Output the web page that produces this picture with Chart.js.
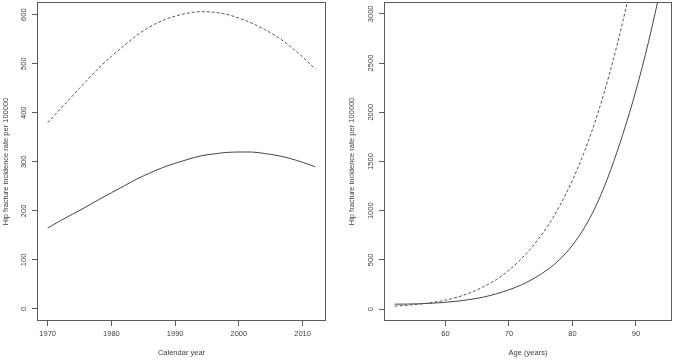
<!DOCTYPE html>
<html>
<head>
<meta charset="utf-8">
<script src="https://cdn.jsdelivr.net/npm/chart.js@4/dist/chart.umd.min.js"></script>
<style>
  html, body { margin: 0; padding: 0; background: #fff; }
  #wrap { position: relative; width: 675px; height: 360px; }
  .panel { position: absolute; top: 0; height: 360px; }
</style>
</head>
<body>
<div id="wrap">
  <div class="panel" style="left:0;width:337px"><canvas id="year-chart"></canvas></div>
  <div class="panel" style="left:337px;width:338px"><canvas id="age-chart"></canvas></div>
</div>
<script>
// left panel: rate by calendar year
const years = [1970, 1972, 1974, 1976, 1978, 1980, 1982, 1984, 1986, 1988, 1990,
               1992, 1994, 1996, 1998, 2000, 2002, 2004, 2006, 2008, 2010, 2012];
const yearRateDashed = [380, 408, 436, 464, 491, 515, 537, 558, 575, 588, 597,
                        603, 606, 605, 601, 593, 583, 570, 555, 536, 514, 489];
const yearRateSolid = [165, 180, 194, 208, 223, 237, 251, 265, 277, 288, 297,
                       305, 312, 316, 319, 320, 320, 317, 313, 307, 299, 290];
const yearTicks = [1970, 1980, 1990, 2000, 2010];
const yearRateTicks = [0, 100, 200, 300, 400, 500, 600];

// right panel: rate by age
const ages = [52, 54, 56, 58, 60, 62, 64, 66, 68, 70, 72,
              74, 76, 78, 80, 82, 84, 86, 88, 90, 92, 94];
const ageRateDashed = [31, 40, 52, 70, 92, 125, 170, 228, 300, 395, 515,
                       660, 835, 1050, 1310, 1620, 1990, 2430, 2940, 3530];
const ageRateSolid = [51, 52, 55, 61, 70, 82, 100, 123, 156, 197, 248,
                      315, 398, 505, 650, 840, 1090, 1410, 1790, 2220, 2720, 3290];
const ageTicks = [60, 70, 80, 90];
const ageRateTicks = [0, 500, 1000, 1500, 2000, 2500, 3000];

const yTitle = 'Hip fracture incidence rate per 100000';
const fontSpec = { family: '"Liberation Sans", Arial, sans-serif', size: 7.5 };
const textColor = '#3c3c3c';
const axisColor = '#5a5a5a';

const boxPlugin = {
  id: 'box',
  afterDraw(chart) {
    const { ctx, chartArea: a } = chart;
    const l = Math.round(a.left) + 0.5, t = Math.round(a.top) + 0.5;
    const r = Math.round(a.right) - 0.5, b = Math.round(a.bottom) - 0.5;
    ctx.save();
    ctx.strokeStyle = axisColor;
    ctx.lineWidth = 1;
    ctx.strokeRect(l, t, r - l, b - t);
    ctx.restore();
  }
};

function toPoints(xs, ys) {
  return ys.map((v, i) => ({ x: xs[i], y: v }));
}

function makePanel(canvas, p) {
  return new Chart(canvas.getContext('2d'), {
    type: 'line',
    data: {
      datasets: [
        {
          data: toPoints(p.xs, p.dashed),
          borderColor: '#555',
          borderWidth: 1,
          borderDash: [3, 2],
          pointRadius: 0,
          cubicInterpolationMode: 'monotone'
        },
        {
          data: toPoints(p.xs, p.solid),
          borderColor: '#444',
          borderWidth: 1,
          pointRadius: 0,
          cubicInterpolationMode: 'monotone'
        }
      ]
    },
    options: {
      responsive: true,
      maintainAspectRatio: false,
      animation: false,
      layout: { padding: { left: 0, right: p.padRight, top: 2, bottom: 0 } },
      plugins: { legend: { display: false }, tooltip: { enabled: false } },
      scales: {
        x: {
          type: 'linear',
          min: p.xMin,
          max: p.xMax,
          afterBuildTicks: s => { s.ticks = p.xTicks.map(v => ({ value: v })); },
          afterFit: s => { s.height = 39; s.paddingLeft = 0; s.paddingRight = 0; },
          grid: { drawOnChartArea: false, drawTicks: true, tickLength: 5, color: axisColor },
          border: { display: false },
          ticks: {
            autoSkip: false, maxRotation: 0, padding: 3,
            color: textColor, font: fontSpec,
            callback: v => String(v)
          },
          title: {
            display: true, text: p.xTitle, color: textColor, font: fontSpec,
            padding: { top: 0, bottom: 3 }
          }
        },
        y: {
          type: 'linear',
          min: p.yMin,
          max: p.yMax,
          afterBuildTicks: s => { s.ticks = p.yTicks.map(v => ({ value: v })); },
          afterFit: s => { s.width = p.yWidth; s.paddingTop = 0; s.paddingBottom = 0; },
          grid: { drawOnChartArea: false, drawTicks: true, tickLength: 5, color: axisColor },
          border: { display: false },
          ticks: {
            autoSkip: false, minRotation: 90, maxRotation: 90, crossAlign: 'center',
            padding: p.yTickPad, color: textColor, font: fontSpec,
            callback: v => String(v)
          },
          title: {
            display: true, text: yTitle, color: textColor, font: fontSpec,
            padding: { top: p.yTitlePad, bottom: 0 }
          }
        }
      }
    },
    plugins: [boxPlugin]
  });
}

makePanel(document.querySelector('#year-chart'), {
  xs: years, dashed: yearRateDashed, solid: yearRateSolid,
  xMin: 1968.32, xMax: 2013.68, yMin: -24.5, yMax: 625.8,
  xTicks: yearTicks, yTicks: yearRateTicks,
  xTitle: 'Calendar year',
  yWidth: 37, padRight: 11, yTickPad: 2.3, yTitlePad: 1.5
});

makePanel(document.querySelector('#age-chart'), {
  xs: ages, dashed: ageRateDashed, solid: ageRateSolid,
  xMin: 50.32, xMax: 95.68, yMin: -120, yMax: 3120,
  xTicks: ageTicks, yTicks: ageRateTicks,
  xTitle: 'Age (years)',
  yWidth: 47, padRight: 3, yTickPad: 0.2, yTitlePad: 10.5
});
</script>
</body>
</html>
